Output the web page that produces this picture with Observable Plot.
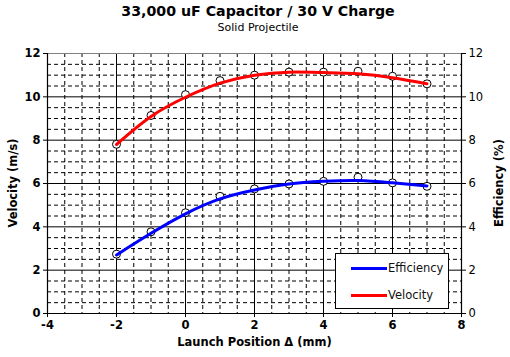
<!DOCTYPE html>
<html><head><meta charset="utf-8">
<script src="https://cdn.jsdelivr.net/npm/d3@7"></script>
<script src="https://cdn.jsdelivr.net/npm/@observablehq/plot@0.6"></script>
<style>
body{margin:0;background:#fff;}
#wrap{position:relative;width:510px;height:357px;font-family:"DejaVu Sans",Verdana,sans-serif;overflow:hidden;}
#title{position:absolute;top:3px;left:0;width:516px;text-align:center;font-size:14.2px;font-weight:bold;color:#000;}
#sub{position:absolute;top:21px;left:0;width:516px;text-align:center;font-size:11px;color:#000;}
#chart{position:absolute;top:0;left:0;}
.ylab{position:absolute;top:183px;transform:translate(-50%,-50%) rotate(-90deg);white-space:nowrap;font-size:11.5px;font-weight:bold;color:#000;}
#legend{position:absolute;left:335px;top:253px;width:112px;height:54px;border:1px solid #000;background:#fff;font-size:11.5px;color:#111;}
.li{position:absolute;left:15px;height:14px;display:flex;align-items:center;}
.li span.sw{display:inline-block;width:36px;height:3px;margin-right:1px;}
</style></head>
<body>
<div id="wrap">
<div id="title">33,000 uF Capacitor / 30 V Charge</div>
<div id="sub">Solid Projectile</div>
<div id="chart"></div>
<div class="ylab" style="left:13px">Velocity (m/s)</div>
<div class="ylab" style="left:499px">Efficiency (%)</div>
<div id="legend"></div>
</div>
<script>
const positions = [-2, -1, 0, 1, 2, 3, 4, 5, 6, 7];
const velocity = [7.81, 9.14, 10.1, 10.75, 11.0, 11.14, 11.14, 11.18, 10.95, 10.6];
const efficiency = [2.74, 3.77, 4.65, 5.41, 5.75, 5.98, 6.1, 6.29, 6.03, 5.87];
const velocityFit = [7.8, 9.09, 9.98, 10.63, 11.0, 11.14, 11.12, 11.06, 10.88, 10.6];
const efficiencyFit = [2.7, 3.7, 4.6, 5.29, 5.7, 5.98, 6.1, 6.14, 6.03, 5.89];
const xTicks = [-4, -2, 0, 2, 4, 6, 8];
const yTicks = [0, 2, 4, 6, 8, 10, 12];
const seriesNames = ["Efficiency", "Velocity"];
const seriesColors = ["#0000ff", "#ff0000"];

const minorX = d3.range(-4, 8.001, 0.5).filter(v => v % 2 !== 0);
const minorY = d3.range(0, 12.001, 0.5).filter(v => v % 2 !== 0);
const majorX = xTicks.filter(v => v > -4 && v < 8);
const majorY = yTicks.filter(v => v > 0 && v < 12);

const rows = positions.map((p, i) => ({p, v: velocity[i], e: efficiency[i], vf: velocityFit[i], ef: efficiencyFit[i]}));

const chart = Plot.plot({
  width: 510, height: 357,
  marginLeft: 47, marginRight: 49, marginTop: 53, marginBottom: 44,
  style: {fontFamily: '"DejaVu Sans", Verdana, sans-serif', fontSize: "11px", color: "#000", background: "transparent"},
  x: {domain: [-4, 8]},
  y: {domain: [0, 12]},
  marks: [
    Plot.ruleX(minorX, {stroke: "#000", strokeWidth: 1, strokeDasharray: "4,3"}),
    Plot.ruleY(minorY, {stroke: "#000", strokeWidth: 1, strokeDasharray: "4,3"}),
    Plot.ruleX(majorX, {stroke: "#000", strokeWidth: 1}),
    Plot.ruleY(majorY, {stroke: "#000", strokeWidth: 1}),
    Plot.ruleY([12], {stroke: "#808080", strokeWidth: 1}),
    Plot.ruleX([-4, 8], {stroke: "#000", strokeWidth: 1.2}),
    Plot.ruleY([0], {stroke: "#000", strokeWidth: 1.2}),
    Plot.axisX({ticks: xTicks, tickFormat: d => String(d), tickSize: 4, tickPadding: 3, label: null, fontSize: 11.5, fontWeight: "bold"}),
    Plot.axisY({ticks: yTicks, tickFormat: d => String(d), anchor: "left", tickSize: 4, tickPadding: 3, label: null, fontSize: 11.5, fontWeight: "bold"}),
    Plot.axisY({ticks: yTicks, tickFormat: d => String(d), anchor: "right", tickSize: 4, tickPadding: 3, label: null, fontSize: 11.5}),
    Plot.dot(rows, {x: "p", y: "v", r: 4, stroke: "#000", fill: "#fff", strokeWidth: 1}),
    Plot.dot(rows, {x: "p", y: "e", r: 4, stroke: "#000", fill: "#fff", strokeWidth: 1}),
    Plot.line(rows, {x: "p", y: "vf", stroke: seriesColors[1], strokeWidth: 3, curve: "natural"}),
    Plot.line(rows, {x: "p", y: "ef", stroke: seriesColors[0], strokeWidth: 3, curve: "natural"}),
    Plot.text(["Launch Position Δ (mm)"], {frameAnchor: "bottom", dy: 32, fontWeight: "bold", fontSize: 11.5})
  ]
});
document.getElementById("chart").appendChild(chart);

const lg = document.getElementById("legend");
seriesNames.forEach((n, i) => {
  const d = document.createElement("div");
  d.className = "li";
  d.style.top = (7 + i * 27) + "px";
  d.innerHTML = `<span class="sw" style="background:${seriesColors[i]}"></span><span>${n}</span>`;
  lg.appendChild(d);
});
</script>
</body></html>
